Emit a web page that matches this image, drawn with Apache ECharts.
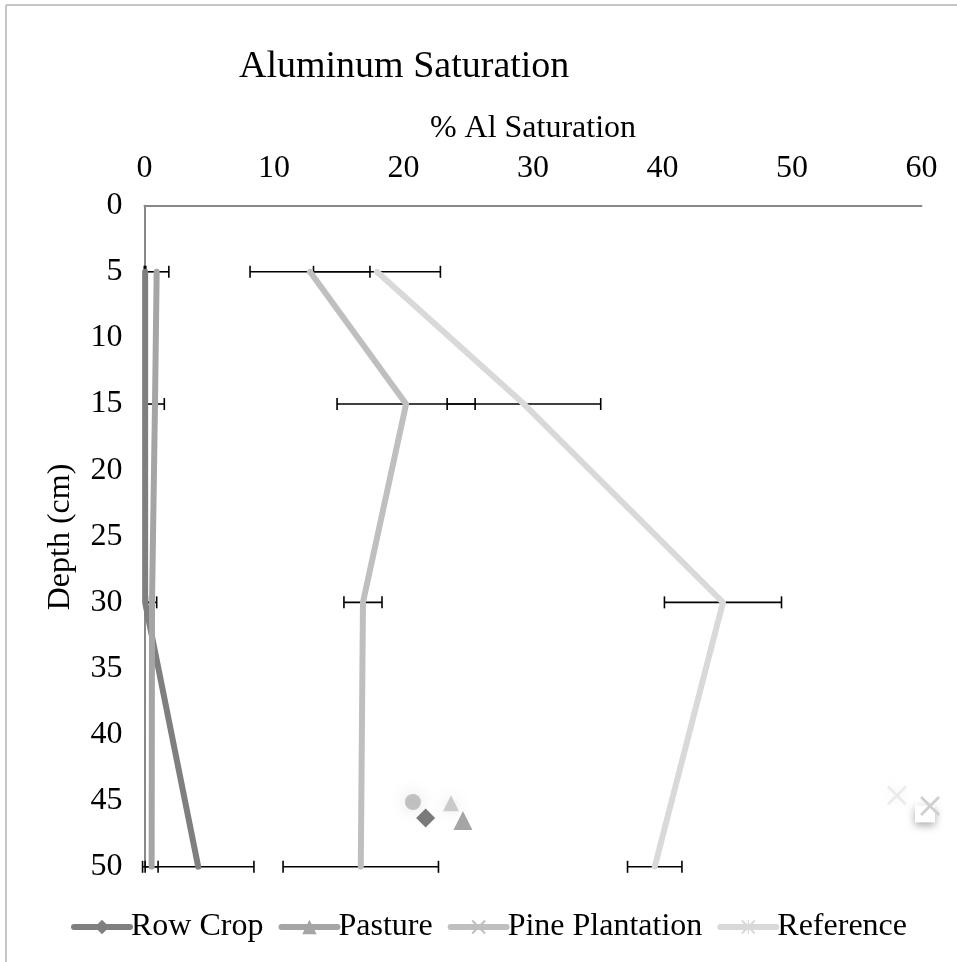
<!DOCTYPE html>
<html>
<head>
<meta charset="utf-8">
<script src="https://cdn.jsdelivr.net/npm/echarts@6/dist/echarts.min.js"></script>
<style>html,body{margin:0;padding:0;background:#fff;}#c{width:957px;height:962px;}</style>
</head>
<body>
<div id="c"></div>
<script>
// ---- data ----
var depths = [5, 15, 30, 50];
var seriesNames = ['Row Crop', 'Pasture', 'Pine Plantation', 'Reference'];
var rowCrop = [0.05, 0.05, 0.05, 4.15];
var rowCropErr = [0.05, 0.05, 0.05, 4.3];
var pasture = [0.94, 0.81, 0.58, 0.55];
var pastureErr = [0.94, 0.72, 0.36, 0.5];
var pine = [12.78, 20.2, 16.87, 16.7];
var pineErr = [4.63, 5.33, 1.47, 6.0];
var reference = [17.95, 29.3, 44.67, 39.4];
var referenceErr = [4.9, 5.93, 4.52, 2.1];
var xTicks = [0, 10, 20, 30, 40, 50, 60];
var yTicks = [0, 5, 10, 15, 20, 25, 30, 35, 40, 45, 50];
// stray markers visible in the picture
var strayDiamond = [[21.71, 46.3]];
var strayTriangle = [[24.59, 46.5]];
var strayBlurCircle = [[20.73, 45.1]];
var strayBlurTriangle = [[23.67, 45.2]];
var strayX = [[60.66, 45.4]];
var strayBlurX = [[58.1, 44.6]];
var strayBox = [[60.27, 46.0]];

var colors = ['#7f7f7f', '#a5a5a5', '#bfbfbf', '#d9d9d9'];
var FONT = '"Liberation Serif", "Times New Roman", serif';
var X_PATH = 'path://M0,1L1,0L10,9L9,10Z M9,0L10,1L1,10L0,9Z';
var AST_PATH = 'path://M0,1L1,0L10,9L9,10Z M9,0L10,1L1,10L0,9Z M4.6,0L5.4,0L5.4,10L4.6,10Z';
var symbols = ['diamond', 'triangle', X_PATH, AST_PATH];

function pairs(vals) { return vals.map(function (v, i) { return [v, depths[i]]; }); }
function errRows(vals, errs) { return vals.map(function (v, i) { return [v, depths[i], errs[i]]; }); }

var allVals = [rowCrop, pasture, pine, reference];
var allErrs = [rowCropErr, pastureErr, pineErr, referenceErr];

var series = [];
// error bars
allVals.forEach(function (vals, k) {
  series.push({
    type: 'custom',
    name: seriesNames[k] + ' err',
    z: 1,
    silent: true,
    data: errRows(vals, allErrs[k]),
    renderItem: function (params, api) {
      var x = api.value(0), y = api.value(1), e = api.value(2);
      var p1 = api.coord([x - e, y]), p2 = api.coord([x + e, y]);
      var h = 6;
      var st = { stroke: '#000', lineWidth: 1.6 };
      return {
        type: 'group',
        children: [
          { type: 'line', shape: { x1: p1[0], y1: p1[1], x2: p2[0], y2: p2[1] }, style: st },
          { type: 'line', shape: { x1: p1[0], y1: p1[1] - h, x2: p1[0], y2: p1[1] + h }, style: st },
          { type: 'line', shape: { x1: p2[0], y1: p2[1] - h, x2: p2[0], y2: p2[1] + h }, style: st }
        ]
      };
    }
  });
});
// lines
allVals.forEach(function (vals, k) {
  series.push({
    type: 'line',
    name: seriesNames[k],
    data: pairs(vals),
    z: 3,
    symbol: symbols[k],
    showSymbol: false,
    symbolSize: 16,
    color: colors[k],
    lineStyle: { width: 6, color: colors[k], cap: 'round', join: 'round' },
    itemStyle: { color: colors[k] },
    emphasis: { disabled: true },
    animation: false
  });
});
// stray markers
function stray(data, sym, size, color, blur, opacity, extra) {
  return {
    type: 'scatter', data: data, symbol: sym, symbolSize: size, z: 5, clip: false, silent: true,
    itemStyle: Object.assign({ color: color, opacity: opacity, shadowBlur: blur, shadowColor: blur ? color : 'transparent' }, extra || {}),
    animation: false
  };
}
series.push(stray(strayBlurCircle, 'circle', 16, 'rgba(150,150,150,0.55)', 16, 1));
series.push(stray(strayBlurTriangle, 'triangle', 16, 'rgba(165,165,165,0.55)', 14, 1));
series.push(stray(strayDiamond, 'diamond', 19, '#7a7a7a', 0, 1));
series.push(stray(strayTriangle, 'triangle', 19, '#a5a5a5', 0, 1));
series.push(stray(strayBlurX, X_PATH, 20, 'rgba(225,225,225,0.6)', 10, 1));
series.push(stray(strayBox, 'rect', [20, 17], '#ffffff', 0, 1, { shadowBlur: 8, shadowColor: 'rgba(0,0,0,0.35)', shadowOffsetY: 3 }));
series.push(stray(strayX, X_PATH, 20, '#cfcfcf', 0, 1));

var chart = echarts.init(document.getElementById('c'), null, { renderer: 'canvas' });
chart.setOption({
  animation: false,
  backgroundColor: '#fff',
  title: {
    text: 'Aluminum Saturation',
    left: 234, top: 43,
    textStyle: { fontFamily: FONT, fontSize: 38, fontWeight: 'normal', color: '#000' }
  },
  legend: {
    data: seriesNames,
    left: 66, top: 906,
    itemWidth: 56, itemHeight: 18, itemGap: 15,
    lineStyle: { width: 6, cap: 'round' },
    textStyle: { fontFamily: FONT, fontSize: 32, color: '#000', padding: [0, 0, 0, -4] }
  },
  grid: { left: 144.5, right: 35.5, top: 205.7, bottom: 95.2, containLabel: false },
  xAxis: {
    type: 'value', position: 'top', min: 0, max: 60, interval: 10,
    name: '% Al Saturation', nameLocation: 'middle', nameGap: 61,
    nameTextStyle: { fontFamily: FONT, fontSize: 32, color: '#000' },
    axisLine: { show: true, lineStyle: { color: '#888888', width: 2 } },
    axisTick: { show: false },
    splitLine: { show: false },
    axisLabel: { fontFamily: FONT, fontSize: 32, color: '#000', margin: 21,
      formatter: function (v) { return xTicks.indexOf(v) >= 0 ? String(v) : ''; } }
  },
  yAxis: {
    type: 'value', inverse: true, min: 0, max: 50, interval: 5,
    axisLine: { show: true, onZero: false, lineStyle: { color: '#888888', width: 2 } },
    axisTick: { show: false },
    splitLine: { show: false },
    axisLabel: { fontFamily: FONT, fontSize: 32, color: '#000', margin: 22,
      formatter: function (v) { return yTicks.indexOf(v) >= 0 ? String(v) : ''; } }
  },
  graphic: [
    { type: 'line', shape: { x1: 6, y1: 5, x2: 6, y2: 962 }, style: { stroke: '#b3b3b3', lineWidth: 1.5 } },
    { type: 'line', shape: { x1: 6, y1: 5, x2: 957, y2: 5 }, style: { stroke: '#b3b3b3', lineWidth: 1.5 } },
    { type: 'text', x: 61, y: 537, rotation: Math.PI / 2,
      style: { text: 'Depth (cm)', font: '32px ' + FONT, fill: '#000', align: 'center', verticalAlign: 'middle' } }
  ],
  series: series
});
</script>
</body>
</html>
